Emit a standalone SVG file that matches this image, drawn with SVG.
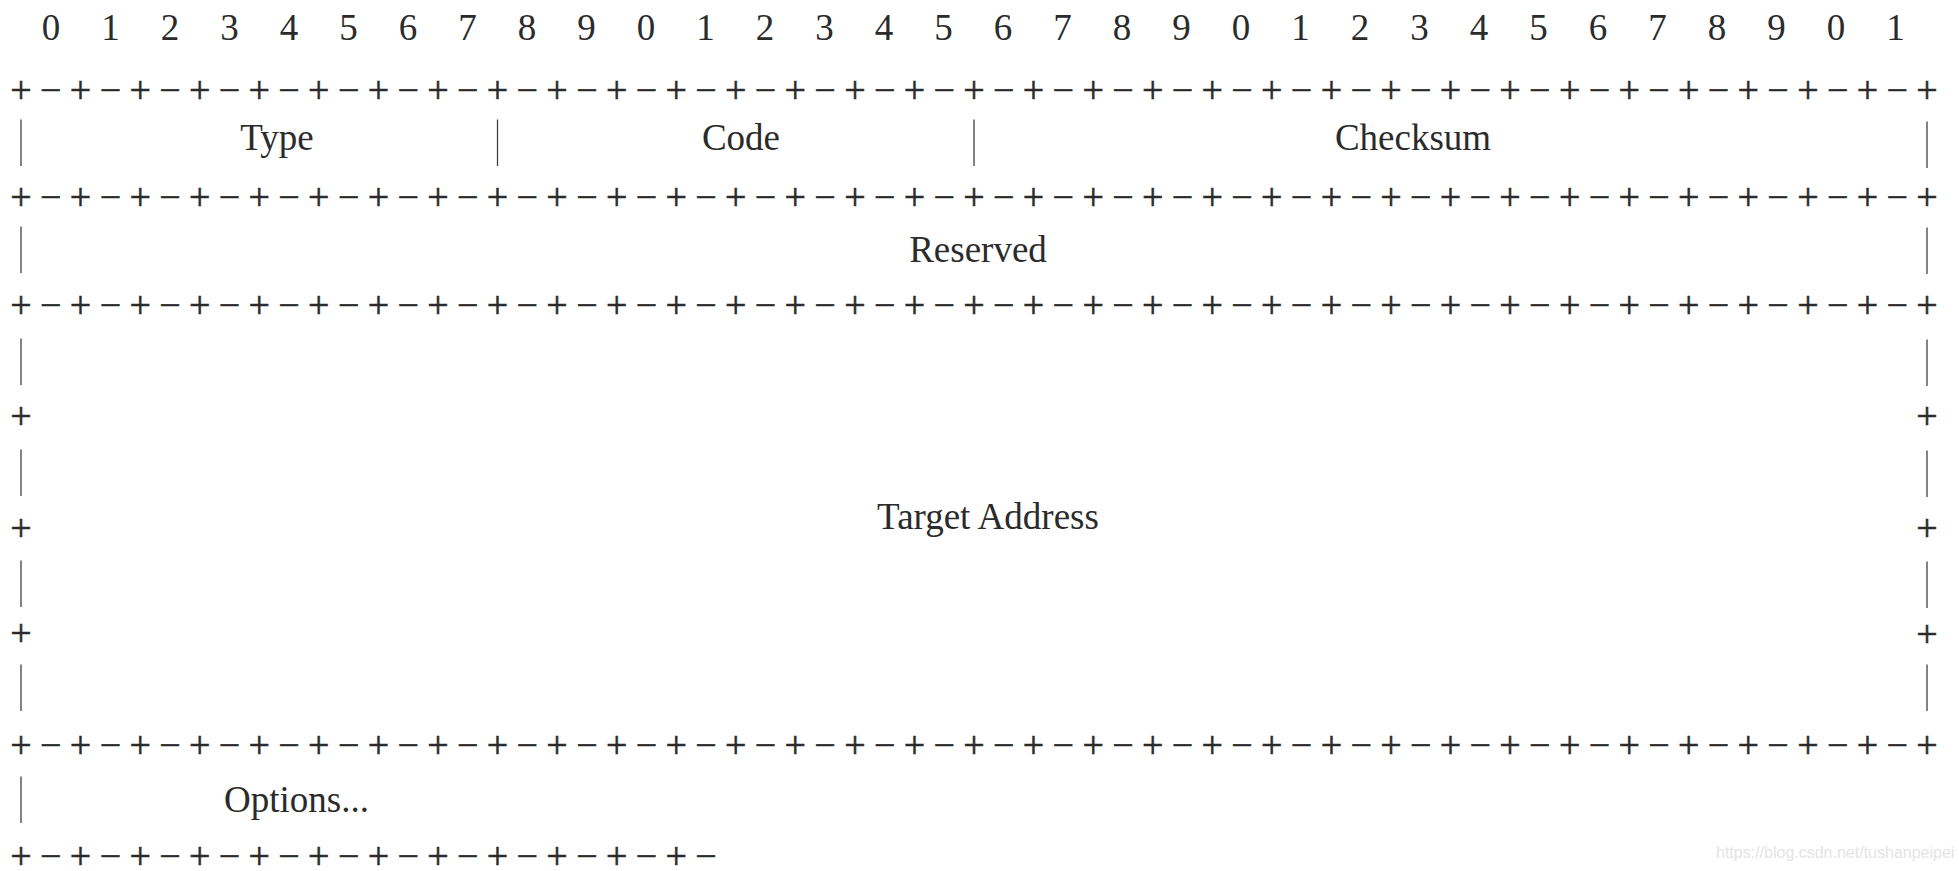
<svg xmlns="http://www.w3.org/2000/svg" width="1959" height="871" viewBox="0 0 1959 871">
<defs>
<filter id="gray" x="-1" y="-0.2" width="3" height="1.4"><feOffset dx="0" dy="0"/></filter>
</defs>
<style>
.t{font-family:"Liberation Serif","Times New Roman",serif;fill:#2b2b2b}
.num{font-size:37px}
.lbl{font-size:37px}
.sep{font-size:38px;letter-spacing:8.35px;stroke:#2b2b2b;stroke-width:0.5px}
.plus{font-size:38px;stroke:#2b2b2b;stroke-width:0.5px}
.bar{font-size:50px;fill:#3a3a3a;filter:url(#gray)}
.wm{font-family:"Liberation Sans",Arial,sans-serif;font-size:16px;fill:#e4e4e4}
</style>
<rect width="1959" height="871" fill="#ffffff"/>
<g id="bit-ruler">
<text class="t num" text-anchor="middle" y="40" x="51 110.5 170 229.5 289 348.5 408 467.5 527 586.5 646 705.5 765 824.5 884 943.5 1003 1062.5 1122 1181.5 1241 1300.5 1360 1419.5 1479 1538.5 1598 1657.5 1717 1776.5 1836 1895.5">01234567890123456789012345678901</text>
</g>
<g id="separators">
<text class="t sep" x="10.3" y="103">+−+−+−+−+−+−+−+−+−+−+−+−+−+−+−+−+−+−+−+−+−+−+−+−+−+−+−+−+−+−+−+−+</text>
<text class="t sep" x="10.3" y="210">+−+−+−+−+−+−+−+−+−+−+−+−+−+−+−+−+−+−+−+−+−+−+−+−+−+−+−+−+−+−+−+−+</text>
<text class="t sep" x="10.3" y="318">+−+−+−+−+−+−+−+−+−+−+−+−+−+−+−+−+−+−+−+−+−+−+−+−+−+−+−+−+−+−+−+−+</text>
<text class="t sep" x="10.3" y="757.5">+−+−+−+−+−+−+−+−+−+−+−+−+−+−+−+−+−+−+−+−+−+−+−+−+−+−+−+−+−+−+−+−+</text>
<text class="t sep" x="10.3" y="868.5">+−+−+−+−+−+−+−+−+−+−+−+−</text>
</g>
<g id="type">
<text class="t bar" text-anchor="middle" transform="translate(21,155) scale(0.5,1)">|</text>
<text class="t lbl" text-anchor="middle" x="277" y="150">Type</text>
</g>
<g id="code">
<text class="t bar" text-anchor="middle" transform="translate(497.5,155) scale(0.5,1)">|</text>
<text class="t lbl" text-anchor="middle" x="741" y="150">Code</text>
</g>
<g id="checksum">
<text class="t bar" text-anchor="middle" transform="translate(974,155) scale(0.5,1)">|</text>
<text class="t lbl" text-anchor="middle" x="1413" y="150">Checksum</text>
<text class="t bar" text-anchor="middle" transform="translate(1927,157) scale(0.5,1)">|</text>
</g>
<g id="reserved">
<text class="t bar" text-anchor="middle" transform="translate(21,262) scale(0.5,1)">|</text>
<text class="t lbl" text-anchor="middle" x="978" y="262">Reserved</text>
<text class="t bar" text-anchor="middle" transform="translate(1927,263) scale(0.5,1)">|</text>
</g>
<g id="target-address">
<text class="t bar" text-anchor="middle" transform="translate(21,373.6) scale(0.5,1)">|</text>
<text class="t bar" text-anchor="middle" transform="translate(21,484.6) scale(0.5,1)">|</text>
<text class="t bar" text-anchor="middle" transform="translate(21,595.6) scale(0.5,1)">|</text>
<text class="t bar" text-anchor="middle" transform="translate(21,700) scale(0.5,1)">|</text>
<text class="t plus" text-anchor="middle" x="21" y="428.5">+</text>
<text class="t plus" text-anchor="middle" x="21" y="540.5">+</text>
<text class="t plus" text-anchor="middle" x="21" y="645.5">+</text>
<text class="t bar" text-anchor="middle" transform="translate(1927,374.5) scale(0.5,1)">|</text>
<text class="t bar" text-anchor="middle" transform="translate(1927,485.5) scale(0.5,1)">|</text>
<text class="t bar" text-anchor="middle" transform="translate(1927,596.5) scale(0.5,1)">|</text>
<text class="t bar" text-anchor="middle" transform="translate(1927,700) scale(0.5,1)">|</text>
<text class="t plus" text-anchor="middle" x="1927" y="429">+</text>
<text class="t plus" text-anchor="middle" x="1927" y="541">+</text>
<text class="t plus" text-anchor="middle" x="1927" y="646.5">+</text>
<text class="t lbl" text-anchor="middle" x="988" y="529">Target Address</text>
</g>
<g id="options">
<text class="t bar" text-anchor="middle" transform="translate(21,812) scale(0.5,1)">|</text>
<text class="t lbl" x="224" y="812">Options...</text>
</g>
<text class="wm" x="1716" y="858">https://blog.csdn.net/tushanpeipei</text>
</svg>
